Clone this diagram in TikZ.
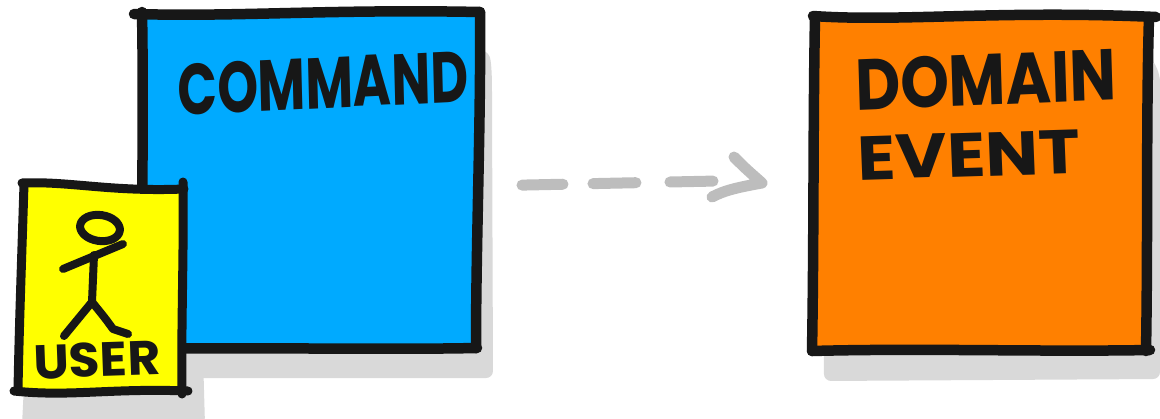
\documentclass[tikz,border=0pt]{standalone}
\usepackage{fontspec}
\setmainfont{Poppins}
\usetikzlibrary{arrows.meta,positioning,calc}
\definecolor{ink}{HTML}{171717}
\definecolor{cmdblue}{HTML}{00AAFF}
\definecolor{evtorange}{HTML}{FF8000}
\definecolor{useryellow}{HTML}{FFFF00}
\definecolor{shade}{HTML}{D9D9D9}
\definecolor{flowgrey}{HTML}{BDBDBD}
\tikzset{
  holder/.style={inner sep=0pt, outer sep=0pt, minimum width=#1},
  edge/.style={line width=10.5pt, color=ink, line cap=round, line join=round},
  figure/.style={line width=8pt, color=ink, line cap=round, line join=round},
  flowline/.style={line width=11pt, color=flowgrey, line cap=round, line join=round},
  cast/.style={fill=shade, rounded corners=7pt},
  lettering/.style={inner sep=0pt, color=ink, font=\bfseries\fontsize{#1}{#1}\selectfont},
}
\begin{document}
\begin{tikzpicture}[x=1pt, y=-1pt]
  \useasboundingbox (0,0) rectangle (1160,418);

  \fill[cast] (160,52) -- (487,50) .. controls (491,60) and (492,70) .. (492,100) -- (493,378) -- (160,378) -- cycle;
  \fill[cast] (822,100) -- (1152,58) -- (1160,75) -- (1160,379) -- (824,381) -- cycle;
  \fill[cast] (24,385) -- (203,355) -- (205,425) -- (22,425) -- cycle;

  \node[holder=338pt, minimum height=336pt] (command) at (310,180) {};
  \node[holder=334pt, minimum height=336pt] (domainevent) at (980,184) {};
  \node[holder=163pt, minimum height=208pt] (user) at (102,287) {};

  \draw[flowline, dash pattern=on 41pt off 30pt on 43pt off 34pt on 46pt off 60pt, shorten <=43pt, shorten >=100pt] ([yshift=-6pt]command.east) -- ([yshift=5pt]domainevent.west);
  \coordinate (tip) at (762,183);
  \draw[flowline] (734,157) .. controls (745,168) .. (tip) .. controls (740,187) and (725,190) .. (712,197);

  \fill[cmdblue] (141,13) -- (479,13) -- (476,348) -- (141,348) -- cycle;
  \draw[edge] (134,14) .. controls (240,17) and (330,9) .. (480,12);
  \draw[edge] (480,12) .. controls (481,120) and (476,240) .. (476,348);
  \draw[edge] (142,12) .. controls (144,120) and (141,240) .. (142,349);
  \draw[edge] (142,349) .. controls (240,347) and (380,350) .. (477,348);

  \fill[evtorange] (815,17) -- (1148,17) -- (1146,351) -- (812,351) -- cycle;
  \draw[edge] (813,16) .. controls (900,22) and (1000,10) .. (1156,17);
  \draw[edge] (1149,17) .. controls (1146,120) and (1148,240) .. (1146,351);
  \draw[edge] (815,17) .. controls (813,120) and (814,240) .. (812,351);
  \draw[edge] (812,351) .. controls (920,348) and (1040,352) .. (1150,350);

  \fill[useryellow] (23,184) -- (183,188) -- (182,391) -- (18,391) -- cycle;
  \draw[edge, line width=9pt] (22,183) .. controls (70,181) and (110,192) .. (184,189);
  \draw[edge, line width=9pt] (183,182) .. controls (184,250) and (181,330) .. (182,394);
  \draw[edge, line width=9pt] (24,184) .. controls (22,250) and (19,330) .. (18,391);
  \draw[edge, line width=9pt] (14,391) .. controls (70,397) and (110,388) .. (188,391);

  \draw[figure, rotate around={-8:(100,228)}] (100,228) ellipse (20pt and 13pt);
  \draw[figure] (63,269) -- (123,244);
  \draw[figure] (94,255) -- (92,302);
  \draw[figure] (64,336) -- (92,302) .. controls (105,318) .. (113,329) -- (128,334);

  \node[lettering=72, xscale=0.72, rotate=2] (commandtext) at (323,83) {COMMAND};
  \node[lettering=72, xscale=0.86, rotate=2] (domaintext) at (986,80) {DOMAIN};
  \node[lettering=62, xscale=1.14, rotate=2] (eventtext) at (969,155) {EVENT};
  \node[lettering=48, xscale=1.05, rotate=2] (usertext) at (97,360) {USER};
\end{tikzpicture}
\end{document}
